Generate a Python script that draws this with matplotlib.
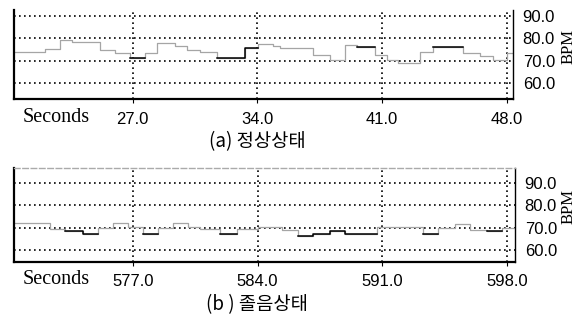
import numpy as np
import matplotlib.pyplot as plt

# (a) normal state: step start times (s) and heart rate (BPM)
sec_a = [20.4, 22.07, 22.91, 23.59, 25.16, 26.00, 26.84, 27.69, 28.36, 29.37,
         30.04, 30.77, 31.73, 33.30, 34.03, 34.87, 35.27, 37.12, 38.07, 38.92,
         39.59, 40.60, 41.27, 41.89, 43.12, 43.86, 45.54, 46.50, 47.23, 48.01]
bpm_a = [74.0, 75.0, 79.1, 78.2, 74.9, 73.6, 71.2, 73.6, 77.9, 76.4,
         74.9, 74.0, 71.2, 75.7, 77.5, 76.4, 75.7, 72.7, 70.4, 77.2,
         76.0, 72.7, 70.4, 69.0, 73.7, 76.0, 73.6, 72.2, 70.4, 73.6]
dark_a = [0, 0, 0, 0, 0, 0, 1, 0, 0, 0,
          0, 0, 1, 1, 0, 0, 0, 0, 0, 0,
          1, 0, 0, 0, 0, 1, 0, 0, 0, 0]
end_a = 48.35

# (b) drowsy state
sec_b = [570.35, 572.35, 573.19, 574.21, 575.05, 575.89, 576.73, 577.57, 578.42,
         579.26, 580.10, 580.78, 581.90, 582.85, 584.03, 585.38, 586.28, 587.12,
         588.07, 588.92, 590.71, 593.30, 594.14, 595.09, 595.94, 596.89, 597.73]
bpm_b = [72.1, 69.4, 68.3, 67.2, 69.9, 72.1, 70.3, 67.2, 69.9,
         72.1, 70.3, 69.4, 67.2, 69.4, 70.3, 69.1, 66.4, 67.0,
         68.3, 67.2, 70.3, 67.2, 69.9, 71.4, 69.1, 68.3, 69.9]
dark_b = [0, 0, 1, 1, 0, 0, 0, 1, 0,
          0, 0, 0, 1, 0, 0, 0, 1, 1,
          1, 1, 0, 1, 0, 0, 0, 1, 0]
end_b = 598.45

xt_a = [27.0, 34.0, 41.0, 48.0]
xt_b = [577.0, 584.0, 591.0, 598.0]
yt = [60.0, 70.0, 80.0, 90.0]

W, H = 584, 320
fig = plt.figure(figsize=(W / 100, H / 100), dpi=100)


def panel(box, sec, bpm, dark, end, xt, xlim, ylim, topline):
    l, t, r, b = box
    ax = fig.add_axes([l / W, 1 - b / H, (r - l) / W, (b - t) / H])
    x = np.append(sec, end)
    y = np.append(bpm, bpm[-1])
    d = np.append(dark, dark[-1]).astype(bool)
    ax.step(x, y, where='post', color='#a5a5a5', lw=0.9)
    ax.step(x, np.where(d, y, np.nan), where='post', color='black', lw=1.1)
    ax.set_xlim(*xlim)
    ax.set_ylim(*ylim)
    ax.set_xticks(xt)
    ax.set_xticklabels(['%.1f' % v for v in xt])
    ax.set_yticks(yt)
    ax.set_yticklabels(['%.1f' % v for v in yt])
    ax.grid(True, color='black', linestyle=(0, (1, 2)), lw=1.2)
    ax.yaxis.tick_right()
    ax.tick_params(axis='y', length=0, pad=7, labelsize=12)
    ax.tick_params(axis='x', length=3, pad=6, labelsize=12)
    for lab in ax.get_xticklabels() + ax.get_yticklabels():
        lab.set_fontfamily('Liberation Sans')
    ax.spines['left'].set_linewidth(1.6)
    ax.spines['bottom'].set_linewidth(1.6)
    ax.spines['right'].set_linewidth(1.0)
    if topline:
        ax.spines['top'].set_color('#aaaaaa')
        ax.spines['top'].set_linestyle((0, (4, 2)))
        ax.spines['top'].set_linewidth(1.0)
    else:
        ax.spines['top'].set_visible(False)
    return ax


panel((14, 10, 513, 99), sec_a, bpm_a, dark_a, end_a, xt_a,
      (20.33, 48.35), (52.8, 92.7), False)
panel((14, 168, 515, 262), sec_b, bpm_b, dark_b, end_b, xt_b,
      (570.33, 598.45), (54.6, 96.7), True)

for ty, by in [(117, 47), (280, 206)]:
    fig.text(56 / W, 1 - ty / H, 'Seconds', family='Liberation Serif',
             fontsize=14.5, ha='center', va='center')
    fig.text(569 / W, 1 - by / H, 'BPM', family='Liberation Serif',
             fontsize=12, rotation=90, ha='center', va='center')

fig.text(257 / W, 1 - 142 / H, '(a) 정상상태', family=['Noto Sans CJK KR', 'DejaVu Sans'],
         fontsize=13.5, ha='center', va='center')
fig.text(257 / W, 1 - 305 / H, '(b ) 졸음상태', family=['Noto Sans CJK KR', 'DejaVu Sans'],
         fontsize=13.5, ha='center', va='center')

fig.savefig('out.png', dpi=100)
